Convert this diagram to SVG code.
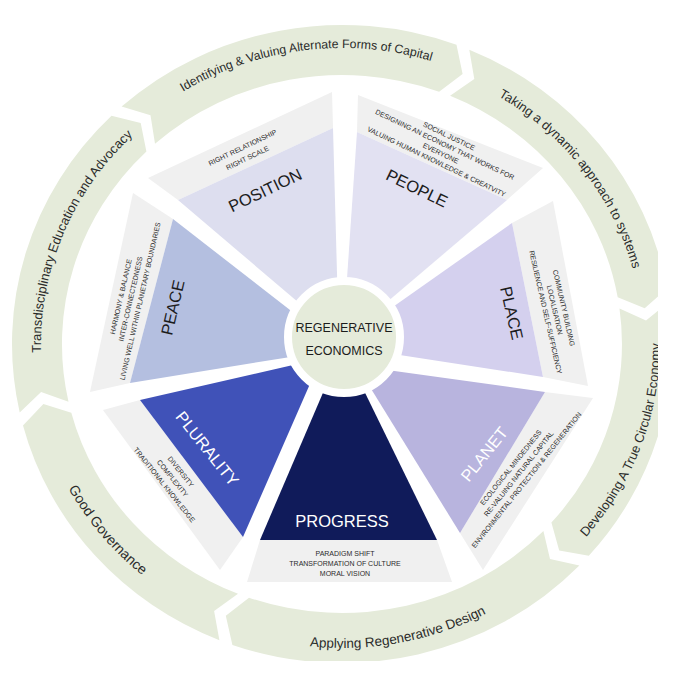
<svg xmlns="http://www.w3.org/2000/svg" width="680" height="680" viewBox="0 0 680 680">
<defs>
<style>
.ringseg{fill:#e5ebda}
.grey{fill:#f0f0f0}
.lbl{font-family:"Liberation Sans",Arial,sans-serif;font-size:16.5px;fill:#1c1c1c;text-anchor:middle}
.w{fill:#ffffff}
.sm{font-family:"Liberation Sans",Arial,sans-serif;font-size:7px;fill:#2b2b2b;text-anchor:middle}
.ring{font-family:"Liberation Sans",Arial,sans-serif;fill:#2b2b2b;text-anchor:middle}
.ctr{font-family:"Liberation Sans",Arial,sans-serif;font-size:12.5px;fill:#1c1c1c;text-anchor:middle}
</style>
<clipPath id="frame"><rect x="0" y="0" width="658" height="661"/></clipPath>
<path id="pA" d="M 101.5 163.0 A 304 296 0 0 1 527.9 109.8"/>
<path id="pB" d="M 386.5 57.2 A 301 290 0 0 1 639.7 386.9"/>
<path id="pF" d="M 65.1 457.8 A 301 290 0 0 1 223.9 77.3"/>
<path id="pC" d="M 478.9 615.7 A 318 301 0 0 0 629.0 214.4"/>
<path id="pD" d="M 167.1 595.7 A 312 304 0 0 0 600.4 514.4"/>
<path id="pE" d="M 31.7 312.5 A 312 301 0 0 0 309.4 643.3"/>
</defs>
<rect x="0" y="0" width="680" height="680" fill="#ffffff"/>

<g id="outer-cycle" clip-path="url(#frame)">
<g id="ring-capital">
<path class="ringseg" d="M 121.6 106.6 A 330 319 0 0 1 456.5 44.8 L 462.6 74.0 L 439.1 91.7 A 280 269 0 0 0 155.0 143.8 L 150.5 115.2 Z"/>
<text class="ring" font-size="12.3"><textPath href="#pA" startOffset="50%">Identifying &amp; Valuing Alternate Forms of Capital</textPath></text>
</g>
<g id="ring-systems">
<path class="ringseg" d="M 469.3 49.7 A 330 319 0 0 1 667.0 288.6 L 644.7 308.2 L 617.7 297.3 A 280 269 0 0 0 450.1 95.8 L 474.3 79.1 Z"/>
<text class="ring" font-size="13"><textPath href="#pB" startOffset="50%">Taking a dynamic approach to systems</textPath></text>
</g>
<g id="ring-circular">
<path class="ringseg" d="M 669.1 301.8 A 330 319 0 0 1 588.8 555.8 L 559.2 550.4 L 551.4 522.6 A 280 269 0 0 0 619.5 308.4 L 646.0 320.4 Z"/>
<text class="ring" font-size="13"><textPath href="#pC" startOffset="50%">Developing A True Circular Economy</textPath></text>
</g>
<g id="ring-design">
<path class="ringseg" d="M 579.4 565.6 A 330 319 0 0 1 232.4 644.9 L 225.8 615.8 L 249.0 597.7 A 280 269 0 0 0 543.4 530.9 L 550.0 559.0 Z"/>
<text class="ring" font-size="13.5"><textPath href="#pD" startOffset="50%">Applying Regenerative Design</textPath></text>
</g>
<g id="ring-governance">
<path class="ringseg" d="M 219.4 640.2 A 330 319 0 0 1 23.0 425.5 L 43.4 404.1 L 71.3 412.7 A 280 269 0 0 0 238.0 593.8 L 214.1 610.9 Z"/>
<text class="ring" font-size="14"><textPath href="#pE" startOffset="50%">Good Governance</textPath></text>
</g>
<g id="ring-education">
<path class="ringseg" d="M 19.7 412.5 A 330 319 0 0 1 111.5 115.7 L 140.7 123.1 L 146.4 151.5 A 280 269 0 0 0 68.5 401.8 L 41.1 392.0 Z"/>
<text class="ring" font-size="13"><textPath href="#pF" startOffset="50%">Transdisciplinary Education and Advocacy</textPath></text>
</g>
</g>

<g id="connectors"></g>

<g id="position">
<polygon class="grey" points="148,178 332,92 333,128 178,200"/>
<polygon fill="#dddeef" points="178,200 333,128 338,310 305,308"/>
<text class="lbl" transform="translate(265,190) rotate(-25.7)" y="6">POSITION</text>
<g transform="translate(242.5,147.5) rotate(-25.7)">
<text class="sm" y="2.5">RIGHT RELATIONSHIP</text>
<text class="sm" y="14">RIGHT SCALE</text>
</g>
</g>

<g id="people">
<polygon class="grey" points="358,95 543,168 507,200 357,132"/>
<polygon fill="#e2e1f2" points="357,132 507,200 380,308 345,308"/>
<text class="lbl" transform="translate(417,188) rotate(25.7)" y="6">PEOPLE</text>
<g transform="translate(449,136) rotate(25.7)">
<text class="sm" y="2.5">SOCIAL JUSTICE</text>
<text class="sm" y="12">DESIGNING AN ECONOMY THAT WORKS FOR</text>
<text class="sm" y="21.5">EVERYONE</text>
<text class="sm" y="31">VALUING HUMAN KNOWLEDGE &amp; CREATVITY</text>
</g>
</g>

<g id="place">
<polygon class="grey" points="553,201 588,386 543,377 512,223"/>
<polygon fill="#d4d0ee" points="512,223 543,377 390,353.5 385,312.6"/>
<text class="lbl" transform="translate(512,313) rotate(77.1)" y="6">PLACE</text>
<g transform="translate(564,308) rotate(77.1)">
<text class="sm" y="2.5">COMMUNITY BUILDING</text>
<text class="sm" y="11.9">LOCALISATION</text>
<text class="sm" y="21.3">RESILIENCE AND SELF-SUFFICIENCY</text>
</g>
</g>

<g id="planet">
<polygon class="grey" points="593,398 483,570 460,533 545,392"/>
<polygon fill="#b8b4de" points="545,392 460,533 365,379 380,369"/>
<text class="lbl w" transform="translate(484,454) rotate(-51.4)" y="6">PLANET</text>
<g transform="translate(510.8,467.5) rotate(-51.4)">
<text class="sm" y="2.5">ECOLOGICAL MINDEDNESS</text>
<text class="sm" y="12.5">RE-VALUING NATURAL CAPITAL</text>
<text class="sm" y="22.5">ENVIRONMENTAL PROTECTION &amp; REGENERATION</text>
</g>
</g>

<g id="progress">
<polygon class="grey" points="260,540 437,540 452,582 247,582"/>
<polygon fill="#101b5a" points="337,360 349,360 437,540 260,540"/>
<text class="lbl w" x="342" y="527" font-size="16">PROGRESS</text>
<text class="sm" x="345" y="555.8">PARADIGM SHIFT</text>
<text class="sm" x="345" y="565.8">TRANSFORMATION OF CULTURE</text>
<text class="sm" x="345" y="575.8">MORAL VISION</text>
</g>

<g id="plurality">
<polygon class="grey" points="103,410 220,570 243,537 140,400"/>
<polygon fill="#4052b8" points="140,400 243,537 315,372.5 305,362.3"/>
<text class="lbl w" transform="translate(207.5,448.5) rotate(51.4)" y="6">PLURALITY</text>
<g transform="translate(180.8,471.7) rotate(51.4)">
<text class="sm" y="2.5">DIVERSITY</text>
<text class="sm" y="13">COMPLEXITY</text>
<text class="sm" y="23.5">TRADITIONAL KNOWLEDGE</text>
</g>
</g>

<g id="peace">
<polygon class="grey" points="133,193 90,392 130,383 173,219"/>
<polygon fill="#b4bfe0" points="173,219 130,383 300,355.4 300,317.8"/>
<text class="lbl" transform="translate(172.5,307.5) rotate(-77.1)" y="6">PEACE</text>
<g transform="translate(120.8,296.7) rotate(-77.1)">
<text class="sm" y="2.5">HARMONY &amp; BALANCE</text>
<text class="sm" y="12.4">INTER-CONNECTEDNESS</text>
<text class="sm" y="22.3">LIVING WELL WITHIN PLANETARY BOUNDARIES</text>
</g>
</g>

<g id="regenerative-economics">
<circle cx="344" cy="337" r="56" fill="#e5ebda" stroke="#ffffff" stroke-width="8"/>
<text class="ctr" x="344" y="332">REGENERATIVE</text>
<text class="ctr" x="344" y="355">ECONOMICS</text>
</g>
</svg>
